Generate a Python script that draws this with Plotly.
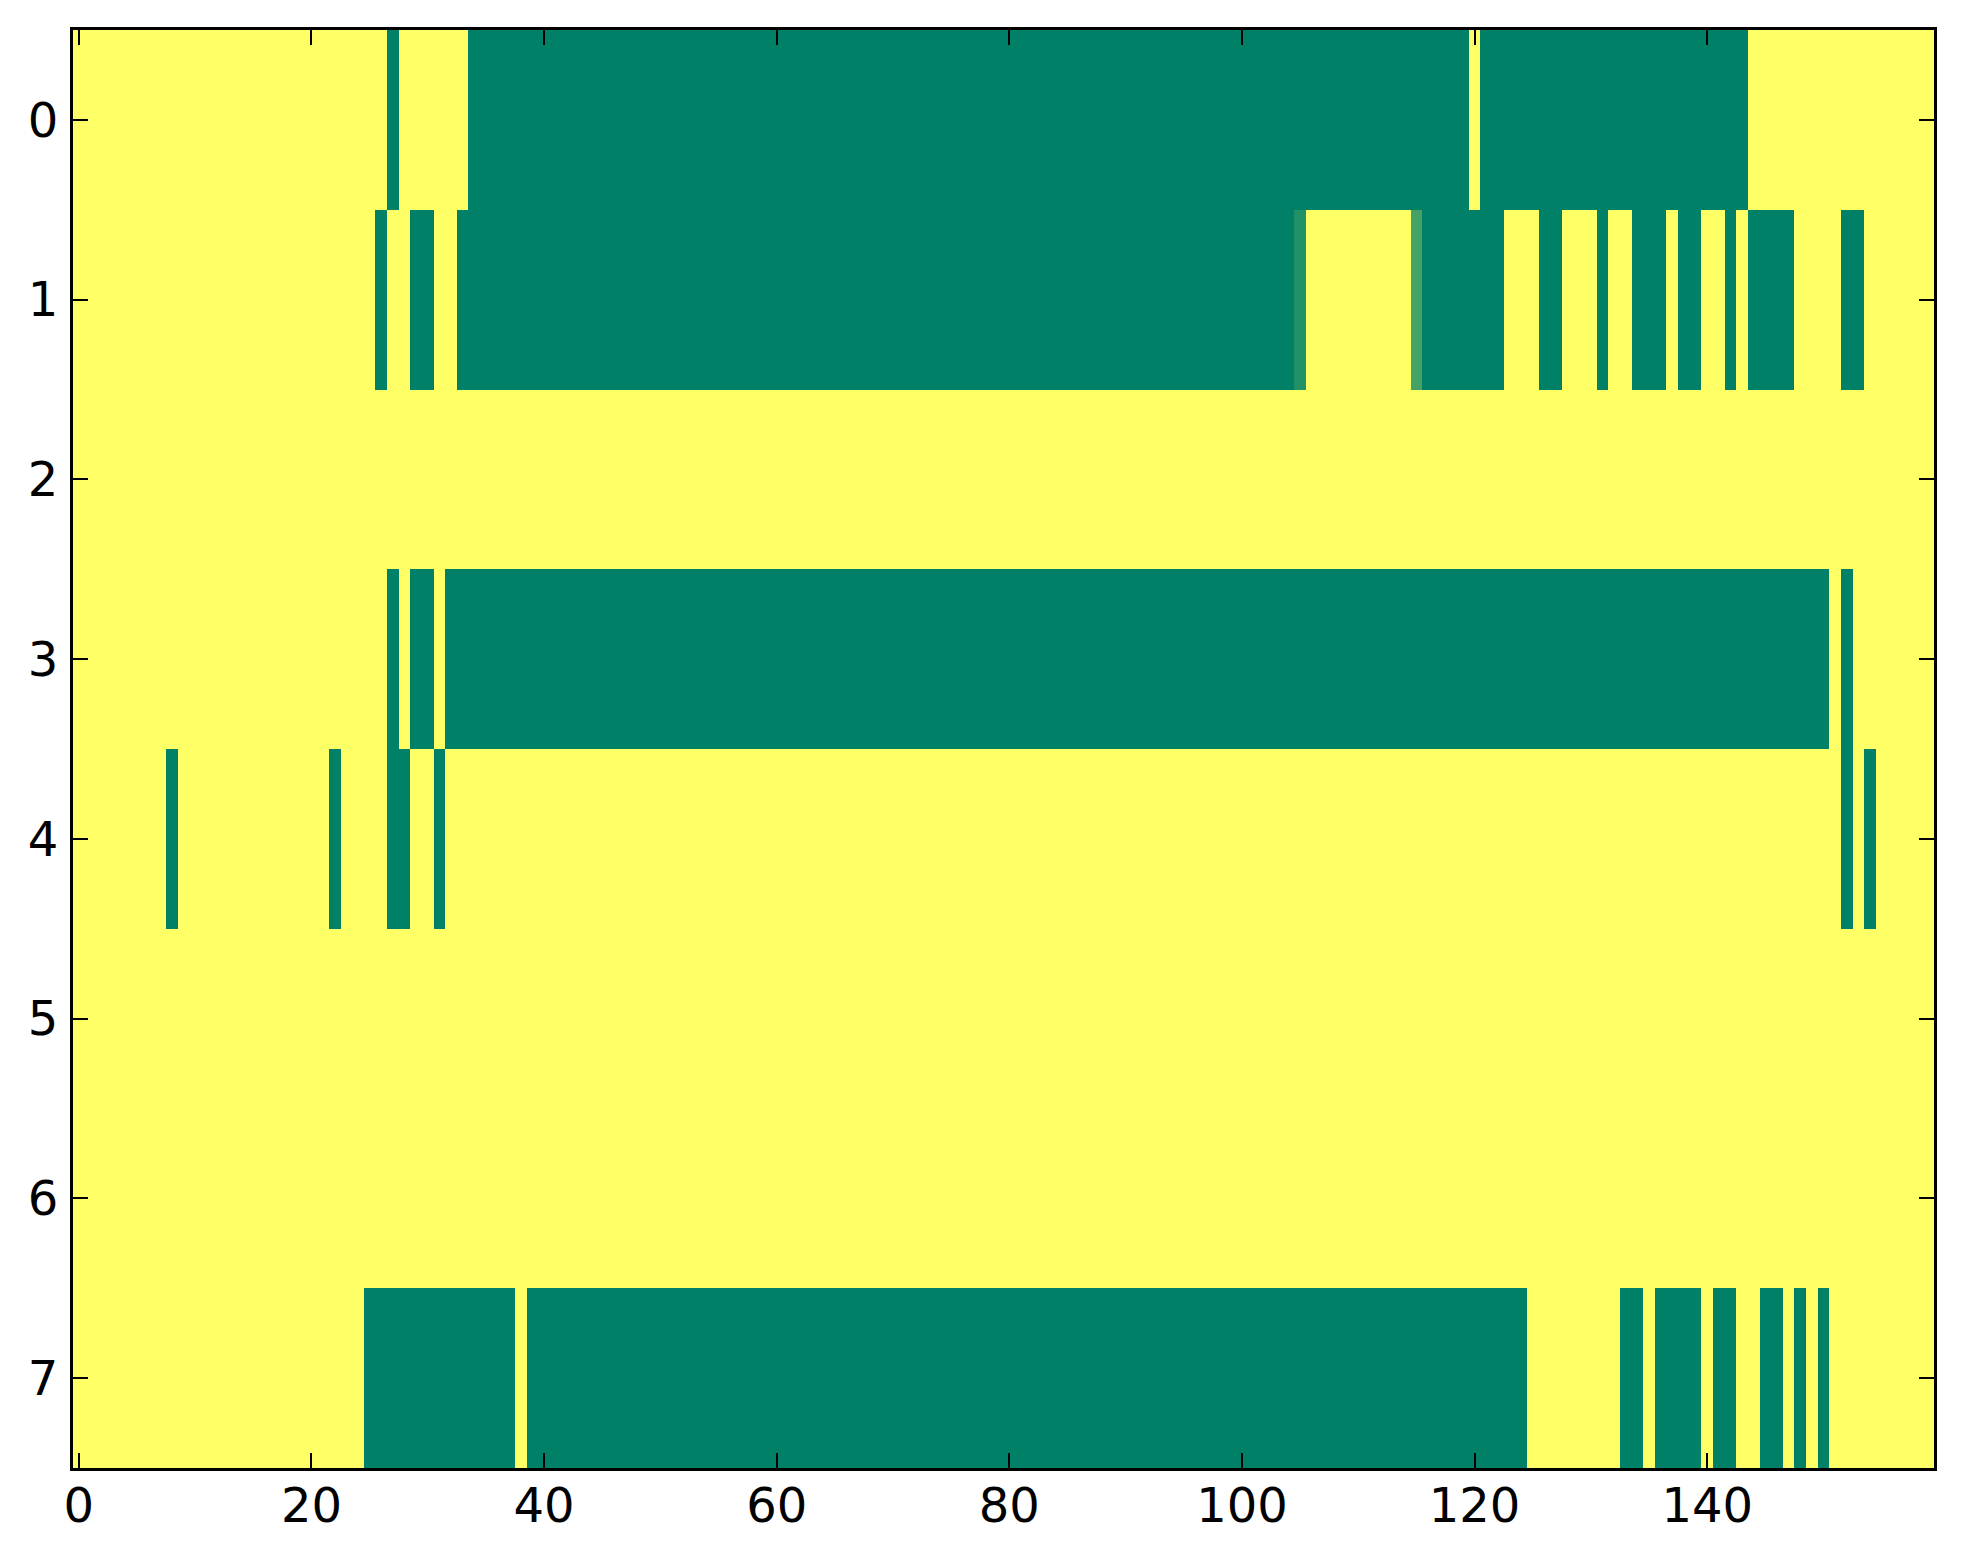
import plotly.graph_objects as go

# mask shown as an image: 1 = yellow, 0 = green (summer colormap)
n_cols = 160
rows = [0, 1, 2, 3, 4, 5, 6, 7]
x_ticks = [0, 20, 40, 60, 80, 100, 120, 140]

# cells that are not 1, per row: (first col, last col, value)
row0 = [(27, 27, 0), (34, 119, 0), (121, 143, 0)]
row1 = [(26, 26, 0), (29, 30, 0), (33, 104, 0), (105, 105, 0.13),
        (115, 115, 0.27), (116, 122, 0), (126, 127, 0), (131, 131, 0),
        (134, 136, 0), (138, 139, 0), (142, 142, 0), (144, 147, 0),
        (152, 153, 0)]
row2 = []
row3 = [(27, 27, 0), (29, 30, 0), (32, 150, 0), (152, 152, 0)]
row4 = [(8, 8, 0), (22, 22, 0), (27, 28, 0), (31, 31, 0),
        (152, 152, 0), (154, 154, 0)]
row5 = []
row6 = []
row7 = [(25, 37, 0), (39, 124, 0), (133, 134, 0), (136, 139, 0),
        (141, 142, 0), (145, 146, 0), (148, 148, 0), (150, 150, 0)]

z = []
for segs in [row0, row1, row2, row3, row4, row5, row6, row7]:
    line = [1.0] * n_cols
    for a, b, v in segs:
        for c in range(a, b + 1):
            line[c] = v
    z.append(line)

fig = go.Figure(go.Heatmap(
    z=z,
    x=list(range(n_cols)),
    y=rows,
    colorscale=[[0, "#008066"], [1, "#ffff66"]],
    zmin=0, zmax=1,
    showscale=False,
))

axis_style = dict(
    showline=True, linewidth=3, linecolor="black", mirror="ticks",
    ticks="inside", ticklen=15, tickwidth=2, tickcolor="black",
    showgrid=False, zeroline=False,
    tickfont=dict(family="DejaVu Sans", size=48, color="black"),
)

fig.update_xaxes(range=[-0.5, n_cols - 0.5], tickvals=x_ticks,
                 ticklabelstandoff=-7, **axis_style)
fig.update_yaxes(range=[7.5, -0.5], tickvals=rows,
                 ticklabelstandoff=2, **axis_style)

# page body has an 8px margin, so the figure is a bit smaller than the window
fig.update_layout(
    width=1955, height=1556,
    margin=dict(l=65, r=29, t=22, b=96),
    paper_bgcolor="white", plot_bgcolor="white",
)

fig.write_html("out.html")
